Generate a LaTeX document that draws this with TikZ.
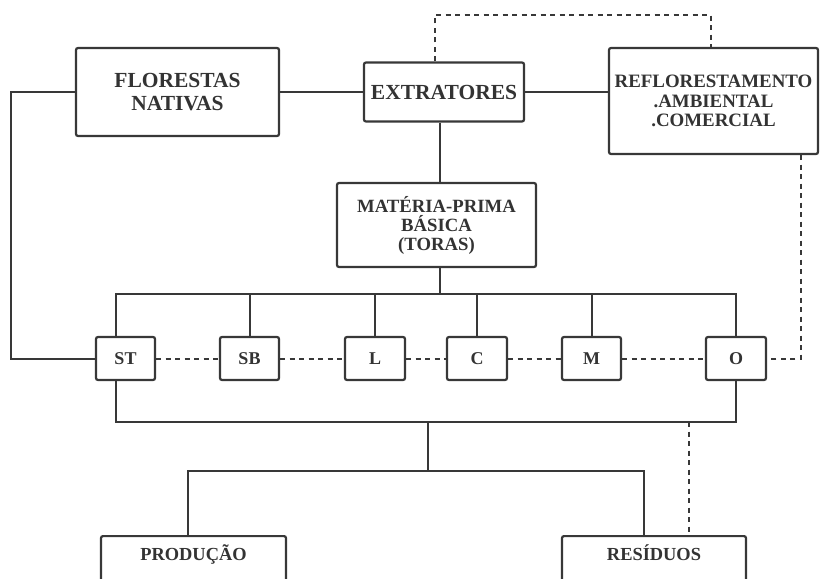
\documentclass[tikz,border=0pt]{standalone}
\usepackage{fontspec}
\setmainfont{Liberation Serif}
\begin{document}
\begin{tikzpicture}[x=1pt,y=-1pt,
  ln/.style={draw=black!78,line width=2pt},
  dl/.style={draw=black!78,line width=2pt,dash pattern=on 5pt off 4.5pt},
  bx/.style={draw=black!78,line width=2.2pt,rounded corners=2pt,fill=white,align=center,inner sep=0pt,font=\bfseries\color{black!80}},
  sbx/.style={bx,minimum height=43pt,font=\fontsize{18}{20}\selectfont\bfseries\color{black!80}}
]
\clip (0,0) rectangle (821,578);
\fill[white] (0,0) rectangle (821,578);
% main boxes
\node[bx,minimum width=203pt,minimum height=88pt,font=\fontsize{21.5}{23}\selectfont\bfseries\color{black!80}] (flor) at (177.5,92) {FLORESTAS\\NATIVAS};
\node[bx,minimum width=160pt,minimum height=59pt,font=\fontsize{21.5}{23}\selectfont\bfseries\color{black!80}] (ext) at (444,92) {EXTRATORES};
\node[bx,minimum width=209pt,minimum height=106pt,font=\fontsize{18.9}{19.5}\selectfont\bfseries\color{black!80}] (ref) at (713.5,101) {REFLORESTAMENTO\\.AMBIENTAL\\.COMERCIAL};
\node[bx,minimum width=199pt,minimum height=84pt,font=\fontsize{18.7}{19}\selectfont\bfseries\color{black!80}] (mat) at (436.5,225) {MATÉRIA-PRIMA\\BÁSICA\\(TORAS)};
% small boxes
\node[sbx,minimum width=59pt] (st) at (125.5,358.5) {ST};
\node[sbx,minimum width=59pt] (sb) at (249.5,358.5) {SB};
\node[sbx,minimum width=60pt] (l) at (375,358.5) {L};
\node[sbx,minimum width=60pt] (c) at (477,358.5) {C};
\node[sbx,minimum width=59pt] (m) at (591.5,358.5) {M};
\node[sbx,minimum width=60pt] (o) at (736,358.5) {O};
% bottom boxes (cut by the frame)
\node[bx,minimum width=185pt,minimum height=70pt,anchor=north,font=\fontsize{18.4}{19}\selectfont\bfseries\color{black!80},text depth=37pt] (prod) at (193.5,535) {PRODUÇÃO};
\node[bx,minimum width=184pt,minimum height=70pt,anchor=north,font=\fontsize{18.4}{19}\selectfont\bfseries\color{black!80},text depth=37pt] (res) at (654,535) {RESÍDUOS};
% helper coordinates
\coordinate (tx) at (440,0);
\coordinate (stx) at (116,0);
\coordinate (bustop) at (0,294);
\coordinate (busbot) at (0,422);
\coordinate (jx) at (428,0);
\coordinate (bus3) at (0,471);
\coordinate (px) at (188,0);
\coordinate (rx) at (644,0);
\coordinate (dx) at (689,0);
% solid connectors
\draw[ln] (flor.east) -- (ext.west);
\draw[ln] (ext.east) -- (ext.east -| ref.west);
\draw[ln] (flor.west) -- ++(-64,0) |- (st.west);
\draw[ln] (ext.south -| tx) -- (mat.north -| tx);
\draw[ln] (mat.south -| tx) -- (tx |- bustop);
\draw[ln] (st.north -| stx) |- (bustop -| o.north) -- (o.north);
\draw[ln] (sb.north) -- (sb.north |- bustop);
\draw[ln] (l.north) -- (l.north |- bustop);
\draw[ln] (c.north) -- (c.north |- bustop);
\draw[ln] (m.north) -- (m.north |- bustop);
\draw[ln] (st.south -| stx) |- (busbot -| o.south) -- (o.south);
\draw[ln] (jx |- busbot) -- (jx |- bus3);
\draw[ln] (prod.north -| px) |- (rx |- bus3) -- (res.north -| rx);
% dashed connectors
\draw[dl] (st.east) -- (sb.west);
\draw[dl] (sb.east) -- (l.west);
\draw[dl] (l.east) -- (c.west);
\draw[dl] (c.east) -- (m.west);
\draw[dl] (m.east) -- (o.west);
\draw[dl] (ext.north -| 435,0) -- (435,15) -- (711,15) -- (ref.north -| 711,0);
\draw[dl] (ref.south -| 801,0) |- (o.east);
\draw[dl] (dx |- busbot) -- (res.north -| dx);
\end{tikzpicture}
\end{document}
